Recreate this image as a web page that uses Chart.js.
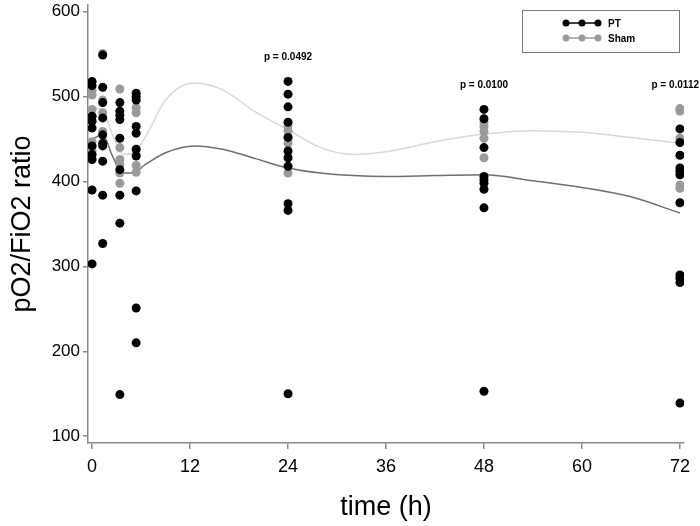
<!DOCTYPE html>
<html>
<head>
<meta charset="utf-8">
<script src="https://cdn.jsdelivr.net/npm/chart.js@4"></script>
<style>
  html, body { margin: 0; padding: 0; background: #fff; }
</style>
</head>
<body>
<canvas id="chart" width="700" height="526"></canvas>
<script>
// sampling times (h) of the individual measurements
const sampleTimes = [0, 1.3, 3.4, 5.4, 24, 48, 72];

// pO2/FiO2 per animal, one list per sampling time
const ptValues = [
  [518, 513, 477, 471, 463, 442, 432, 426, 390, 303],
  [549, 511, 493, 475, 455, 445, 442, 424, 384, 327],
  [493, 483, 478, 473, 451, 414, 384, 351, 149],
  [504, 500, 496, 465, 457, 438, 430, 389, 251, 210],
  [518, 503, 488, 470, 452, 436, 428, 418, 374, 366, 150],
  [485, 474, 440, 406, 402, 398, 391, 369, 153],
  [462, 446, 431, 416, 412, 408, 375, 290, 286, 281, 139],
];
const shamValues = [
  [507, 502, 485, 447, 442, 436],
  [551, 496, 481, 459],
  [509, 440, 426, 420, 410, 398],
  [487, 481, 432, 419, 411],
  [466, 460, 452, 445, 410],
  [470, 465, 459, 451, 428],
  [486, 483, 451, 396, 392],
];

// smoothed fit curves
const fitTimes = [0, 1.3, 2.5, 3.8, 5, 6.5, 9, 12.5, 16, 20, 24, 28, 32, 36, 42, 48, 54, 60, 66, 72];
const ptFit    = [450, 455, 430, 410, 410, 420, 434, 442, 438, 427, 416, 410, 407, 406, 407, 408, 401, 393, 382, 363];
const shamFit  = [487, 484, 455, 432, 433, 452, 496, 516, 508, 482, 461, 440, 432, 435, 447, 456, 460, 458, 452, 445];

// p-values above the late time points
const pTimes = [24, 48, 72];
const pTexts = ['p = 0.0492', 'p = 0.0100', 'p = 0.0112'];
const pLevels = [547, 514, 514];

const xTicks = [0, 12, 24, 36, 48, 60, 72];
const yTicks = [100, 200, 300, 400, 500, 600];

const PT_COLOR = '#000000';
const SHAM_COLOR = '#9a9a9a';
const AXIS_COLOR = '#8a8a8a';
const FONT = "'Liberation Sans', Arial, sans-serif";

const toPoints = (groups) => groups.flatMap((vals, i) => vals.map(v => ({ x: sampleTimes[i], y: v })));
const toCurve = (vals) => vals.map((v, i) => ({ x: fitTimes[i], y: v }));

const legendItems = [
  { label: 'PT', color: PT_COLOR },
  { label: 'Sham', color: SHAM_COLOR },
];

// boxed legend in the top right corner
const boxLegend = {
  id: 'boxLegend',
  afterDraw(chart) {
    const ctx = chart.ctx;
    ctx.save();
    ctx.strokeStyle = '#777';
    ctx.lineWidth = 1;
    ctx.strokeRect(522.5, 10.5, 157, 42);
    legendItems.forEach((item, i) => {
      const y = 23 + i * 15;
      ctx.strokeStyle = item.color;
      ctx.fillStyle = item.color;
      ctx.lineWidth = 1.5;
      ctx.beginPath();
      ctx.moveTo(566, y);
      ctx.lineTo(598, y);
      ctx.stroke();
      [566, 582, 598].forEach(x => {
        ctx.beginPath();
        ctx.arc(x, y, 3.5, 0, Math.PI * 2);
        ctx.fill();
      });
      ctx.fillStyle = '#000';
      ctx.font = "bold 10px " + FONT;
      ctx.textBaseline = 'middle';
      ctx.textAlign = 'left';
      ctx.fillText(item.label, 608, y + 1);
    });
    ctx.restore();
  }
};

// p-value labels, placed through the chart scales
const pLabels = {
  id: 'pLabels',
  afterDatasetsDraw(chart) {
    const { ctx, scales } = chart;
    ctx.save();
    ctx.font = "bold 10px " + FONT;
    ctx.fillStyle = '#000';
    ctx.textBaseline = 'middle';
    ctx.textAlign = 'center';
    pTexts.forEach((txt, i) => {
      const w = ctx.measureText(txt).width;
      let x = scales.x.getPixelForValue(pTimes[i]);
      x = Math.min(x, chart.width - w / 2 - 1);
      ctx.fillText(txt, x, scales.y.getPixelForValue(pLevels[i]));
    });
    ctx.restore();
  }
};

new Chart(document.getElementById('chart'), {
  type: 'scatter',
  data: {
    datasets: [
      {
        label: 'Sham fit',
        data: toCurve(shamFit),
        showLine: true,
        borderColor: '#d8d8d8',
        borderWidth: 1.5,
        pointRadius: 0,
        cubicInterpolationMode: 'monotone',
        order: 4,
      },
      {
        label: 'PT fit',
        data: toCurve(ptFit),
        showLine: true,
        borderColor: '#6e6e6e',
        borderWidth: 1.5,
        pointRadius: 0,
        cubicInterpolationMode: 'monotone',
        order: 3,
      },
      {
        label: 'Sham',
        data: toPoints(shamValues),
        backgroundColor: SHAM_COLOR,
        borderWidth: 0,
        pointRadius: 4.5,
        order: 2,
      },
      {
        label: 'PT',
        data: toPoints(ptValues),
        backgroundColor: PT_COLOR,
        borderWidth: 0,
        pointRadius: 4.5,
        order: 1,
      },
    ]
  },
  options: {
    responsive: false,
    animation: false,
    layout: { padding: { left: 0, top: 5, right: 16, bottom: 0 } },
    plugins: {
      legend: { display: false },
      tooltip: { enabled: false },
    },
    scales: {
      x: {
        type: 'linear',
        min: -0.5,
        max: 72.5,
        afterBuildTicks: axis => { axis.ticks = xTicks.map(v => ({ value: v })); },
        afterFit: scale => { scale.height = 83; scale.paddingLeft = 0; scale.paddingRight = 0; },
        ticks: { color: '#000', font: { family: FONT, size: 18 }, padding: 7 },
        grid: { drawOnChartArea: false, drawTicks: true, tickLength: 6, color: AXIS_COLOR, lineWidth: 1.5 },
        border: { color: AXIS_COLOR, width: 1.5 },
        title: { display: true, text: 'time (h)', color: '#000', font: { family: FONT, size: 27 }, padding: { top: 0, bottom: 2 } },
      },
      y: {
        min: 92,
        max: 608,
        afterBuildTicks: axis => { axis.ticks = yTicks.map(v => ({ value: v })); },
        afterFit: scale => { scale.width = 88; scale.paddingTop = 0; scale.paddingBottom = 0; },
        ticks: { color: '#000', font: { family: FONT, size: 17 }, padding: 3 },
        grid: { drawOnChartArea: false, drawTicks: true, tickLength: 5, color: AXIS_COLOR, lineWidth: 1.5 },
        border: { color: AXIS_COLOR, width: 1.5 },
        title: { display: true, text: 'pO2/FiO2 ratio', color: '#000', font: { family: FONT, size: 27 }, padding: { top: 6, bottom: 0 } },
      },
    },
  },
  plugins: [pLabels, boxLegend],
});
</script>
</body>
</html>
